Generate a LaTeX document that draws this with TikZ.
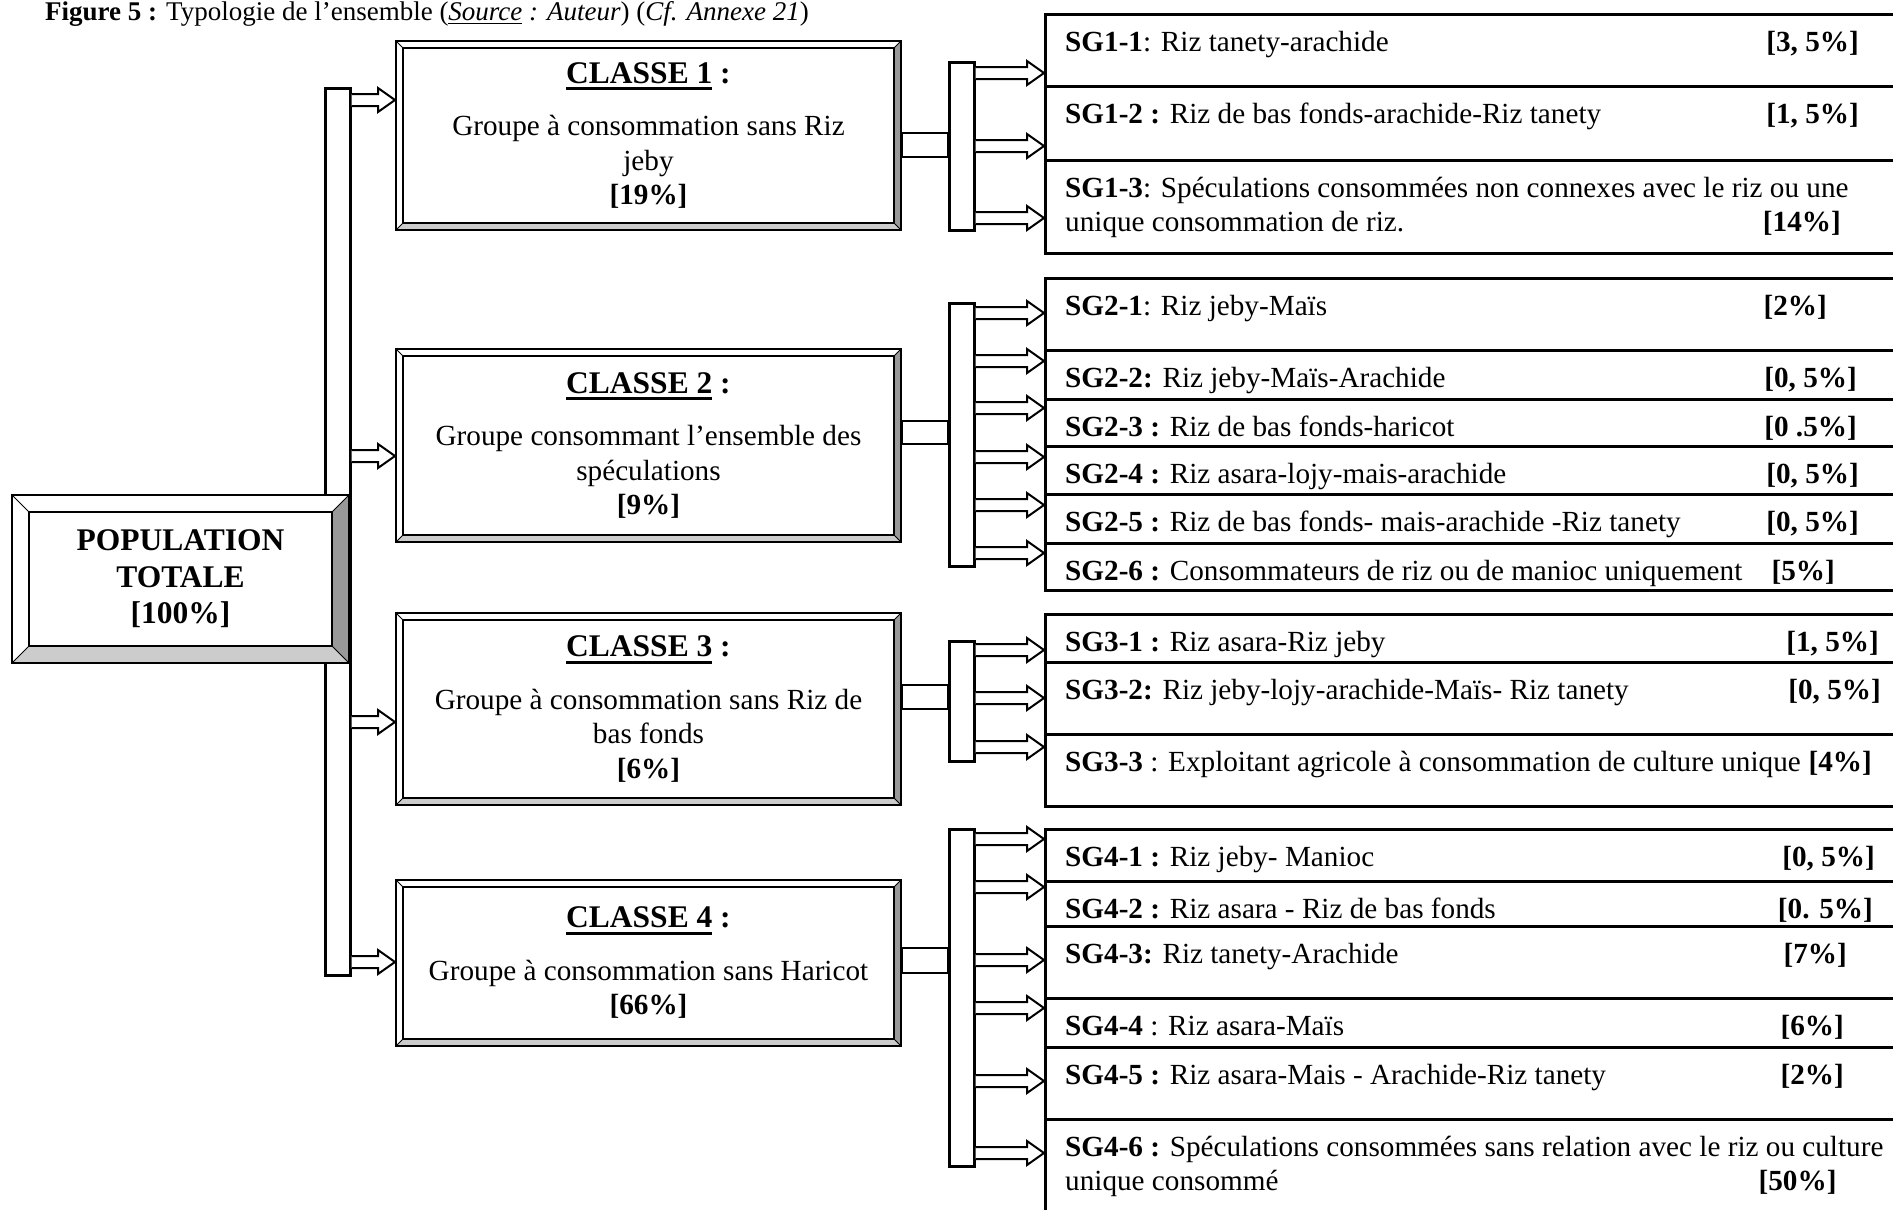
\documentclass[tikz,border=0pt]{standalone}
\usepackage{fontspec}
\setmainfont{Liberation Serif}
\usetikzlibrary{calc}

\definecolor{bevdark}{gray}{0.6}
\definecolor{bevlight}{gray}{0.8}

\newcommand*{\boxl}{1044}
\newcommand*{\boxr}{1900}
\newcommand*{\textl}{1065}
\newcommand*{\bodyfont}{\fontsize{29.2}{34.5}\selectfont}
\newcommand*{\headfont}{\fontsize{31.5}{36.5}\selectfont\bfseries}
% underline: thickness, depth, text
\newcommand*{\ulbox}[3]{\setbox0=\hbox{#3}\rlap{\rule[-#2]{\wd0}{#1}}\box0\relax}

\newcommand*{\blockarrow}[2]{%
	\draw[arrowline] let \p1=#1, \p2=#2 in
		(\x1,\y1+6pt) -- (\x2-17pt,\y1+6pt) -- (\x2-17pt,\y1+12pt) -- (\x2,\y1)
		-- (\x2-17pt,\y1-12pt) -- (\x2-17pt,\y1-6pt) -- (\x1,\y1-6pt);}

\begin{document}
\begin{tikzpicture}
[
	x=1pt, y=1pt,
	bevel/.style={path picture={
		\path (path picture bounding box.north west) coordinate (bnw)
			(path picture bounding box.north east) coordinate (bne)
			(path picture bounding box.south east) coordinate (bse)
			(path picture bounding box.south west) coordinate (bsw);
		\fill[bevdark] (bne) -- (bse) -- ++(-#1pt,#1pt) -- ([shift={(-#1pt,-#1pt)}]bne) -- cycle;
		\fill[bevlight] (bse) -- (bsw) -- ++(#1pt,#1pt) -- ([shift={(-#1pt,#1pt)}]bse) -- cycle;
		\draw[line width=1.5pt] ([shift={(#1pt,-#1pt)}]bnw) rectangle ([shift={(-#1pt,#1pt)}]bse);
		\draw[line width=1pt] (bnw) -- ++(#1pt,-#1pt) (bne) -- ++(-#1pt,-#1pt)
			(bse) -- ++(-#1pt,#1pt) (bsw) -- ++(#1pt,#1pt);
	}},
	popbox/.style={draw, line width=2, fill=white, inner sep=0pt, align=center, font=\headfont, bevel=17},
	classbox/.style={draw, line width=2, fill=white, inner sep=0pt, minimum width=505, align=center, font=\bodyfont, bevel=7},
	bar/.style={draw, line width=2.5, fill=white, inner sep=0pt, minimum width=25, anchor=north west},
	subbox/.style={draw, line width=2.8, inner sep=0pt, minimum width=856, anchor=north west},
	subtext/.style={inner sep=0pt, anchor=base west, align=left, font=\bodyfont},
	arrowline/.style={line width=2, fill=white},
	barline/.style={line width=2.5, fill=white}
]

	\useasboundingbox (0,0) rectangle (1893,-1210);

	% title
	\node[inner sep=0pt, anchor=base west, font=\fontsize{27}{32}\selectfont] (title) at (45,-20)
		{\textbf{Figure 5 :} Typologie de l'ensemble (\ulbox{1.2pt}{4pt}{\textit{Source}}\textit{ : Auteur}) (\textit{Cf. Annexe 21})};

	% trunk and population
	\node[bar, minimum height=887] (trunk) at (324,-87) {};
	\node[popbox, minimum width=337, minimum height=168] (pop) at (180.5,-579) {POPULATION\\TOTALE\\{[100\%]}};

	% classes
	\node[classbox, minimum height=189] (c1) at (648.5,-135.5)
		{{\headfont\ulbox{2.8pt}{7pt}{CLASSE 1} :}\\[18pt]Groupe à consommation sans Riz\\jeby\\\textbf{[19\%]}};
	\node[classbox, minimum height=193] (c2) at (648.5,-445.5)
		{{\headfont\ulbox{2.8pt}{7pt}{CLASSE 2} :}\\[18pt]Groupe consommant l'ensemble des\\spéculations\\\textbf{[9\%]}};
	\node[classbox, minimum height=192] (c3) at (648.5,-709)
		{{\headfont\ulbox{2.8pt}{7pt}{CLASSE 3} :}\\[18pt]Groupe à consommation sans Riz de\\bas fonds\\\textbf{[6\%]}};
	\node[classbox, minimum height=166] (c4) at (648.5,-963)
		{{\headfont\ulbox{2.8pt}{7pt}{CLASSE 4} :}\\[18pt]Groupe à consommation sans Haricot\\\textbf{[66\%]}};

	% arrows from trunk
	\blockarrow{(trunk.east |- 0,-100)}{(c1.west |- 0,-100)}
	\blockarrow{(trunk.east |- 0,-456)}{(c2.west |- 0,-456)}
	\blockarrow{(trunk.east |- 0,-722)}{(c3.west |- 0,-722)}
	\blockarrow{(trunk.east |- 0,-962)}{(c4.west |- 0,-962)}

	% brackets
	\node[bar, minimum height=168] (br1) at (948,-61) {};
	\node[bar, minimum height=263] (br2) at (948,-302) {};
	\node[bar, minimum height=120] (br3) at (948,-640) {};
	\node[bar, minimum height=337] (br4) at (948,-828) {};

	% class to bracket
	\draw[barline] (c1.east |- 0,-133) rectangle (br1.west |- 0,-157);
	\draw[barline] (c2.east |- 0,-421) rectangle (br2.west |- 0,-444);
	\draw[barline] (c3.east |- 0,-685) rectangle (br3.west |- 0,-709);
	\draw[barline] (c4.east |- 0,-948) rectangle (br4.west |- 0,-973);

	% sub-groups
	\foreach \nm/\ya/\yb/\px/\dl/\txt/\pc in {
		sg11/13/85/1859/0/{\textbf{SG1-1}: Riz tanety-arachide}/{[3, 5\%]},
		sg12/85/159/1859/0/{\textbf{SG1-2 :} Riz de bas fonds-arachide-Riz tanety}/{[1, 5\%]},
		sg13/159/252/1841/34.5/{\textbf{SG1-3}: Spéculations consommées non connexes avec le riz ou une\\unique consommation de riz.}/{[14\%]},
		sg21/277/349/1827/0/{\textbf{SG2-1}: Riz jeby-Maïs}/{[2\%]},
		sg22/349/398/1857/0/{\textbf{SG2-2:} Riz jeby-Maïs-Arachide}/{[0, 5\%]},
		sg23/398/445/1857/0/{\textbf{SG2-3 :} Riz de bas fonds-haricot}/{[0 .5\%]},
		sg24/445/493/1859/0/{\textbf{SG2-4 :} Riz asara-lojy-mais-arachide}/{[0, 5\%]},
		sg25/493/542/1859/0/{\textbf{SG2-5 :} Riz de bas fonds- mais-arachide -Riz tanety}/{[0, 5\%]},
		sg26/542/589/1835/0/{\textbf{SG2-6 :} Consommateurs de riz ou de manioc uniquement}/{[5\%]},
		sg31/613/661/1879/0/{\textbf{SG3-1 :} Riz asara-Riz jeby}/{[1, 5\%]},
		sg32/661/733/1881/0/{\textbf{SG3-2:} Riz jeby-lojy-arachide-Maïs- Riz tanety}/{[0, 5\%]},
		sg33/733/805/1872/0/{\textbf{SG3-3} : Exploitant agricole à consommation de culture unique}/{[4\%]},
		sg41/828/880/1875/0/{\textbf{SG4-1 :} Riz jeby- Manioc}/{[0, 5\%]},
		sg42/880/925/1873/0/{\textbf{SG4-2 :} Riz asara - Riz de bas fonds}/{[0. 5\%]},
		sg43/925/997/1847/0/{\textbf{SG4-3:} Riz tanety-Arachide}/{[7\%]},
		sg44/997/1046/1844/0/{\textbf{SG4-4} : Riz asara-Maïs}/{[6\%]},
		sg45/1046/1118/1844/0/{\textbf{SG4-5 :} Riz asara-Mais - Arachide-Riz tanety}/{[2\%]},
		sg46/1118/1214/1844/34.5/{\textbf{SG4-6 :} Spéculations consommées sans relation avec le riz ou culture\\unique consommé}/{[50\%]}
	} {
		\node[subbox, minimum height=\yb-\ya] (\nm) at (\boxl,-\ya) {};
		\begin{scope}
			\clip (\nm.north west) rectangle ([yshift=5pt]\nm.south east);
			\node[subtext] (\nm-t) at (\textl,-\ya-38-\dl) {\txt};
			\node[subtext, anchor=base east, font=\bodyfont\bfseries] (\nm-p) at (\px,-\ya-38-\dl) {\pc};
		\end{scope}
	}

	% arrows to sub-groups
	\foreach \ty in {73,146,218} {\blockarrow{(br1.east |- 0,-\ty)}{(sg11.west |- 0,-\ty)}}
	\foreach \ty in {313,361,408,457,505,553} {\blockarrow{(br2.east |- 0,-\ty)}{(sg21.west |- 0,-\ty)}}
	\foreach \ty in {650,698,747} {\blockarrow{(br3.east |- 0,-\ty)}{(sg31.west |- 0,-\ty)}}
	\foreach \ty in {839,887,960,1008,1081,1153} {\blockarrow{(br4.east |- 0,-\ty)}{(sg41.west |- 0,-\ty)}}

\end{tikzpicture}
\end{document}
